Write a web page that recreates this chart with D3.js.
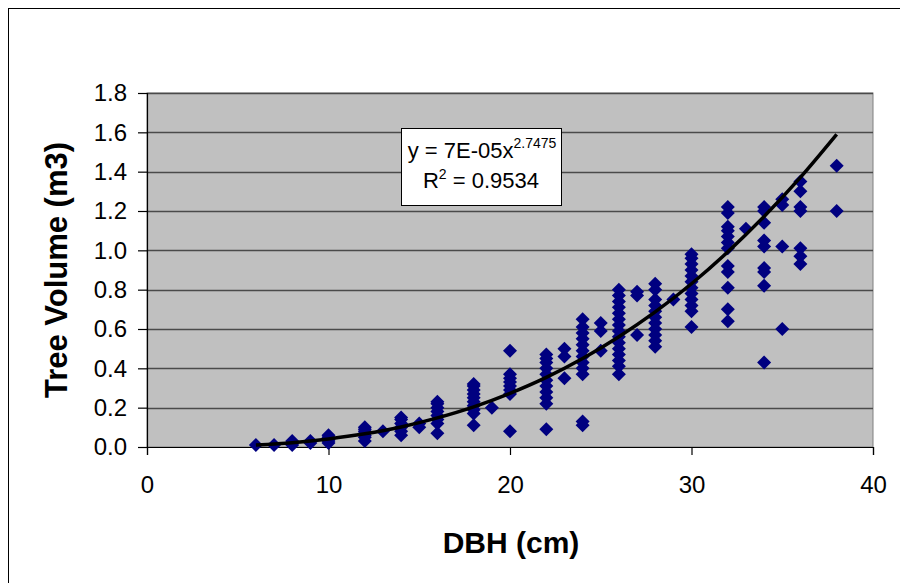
<!DOCTYPE html>
<html>
<head>
<meta charset="utf-8">
<script src="https://cdn.jsdelivr.net/npm/d3@7"></script>
<style>
  html, body { margin: 0; padding: 0; background: #fff; }
  svg { display: block; }
  text { font-family: "Liberation Sans", Arial, sans-serif; }
</style>
</head>
<body>
<svg id="chart" width="900" height="583"></svg>
<script>
// ---- data ----
const dbh06 = [0.01];
const dbh07 = [0.01];
const dbh08 = [0.01, 0.02, 0.03];
const dbh09 = [0.02, 0.03];
const dbh10 = [0.02, 0.03, 0.04, 0.05, 0.06];
const dbh12 = [0.03, 0.05, 0.06, 0.07, 0.08, 0.09, 0.10];
const dbh13 = [0.08];
const dbh14 = [0.06, 0.08, 0.10, 0.12, 0.14, 0.15];
const dbh15 = [0.10, 0.12];
const dbh16 = [0.07, 0.12, 0.14, 0.16, 0.18, 0.20, 0.22, 0.23];
const dbh18 = [0.11, 0.17, 0.19, 0.21, 0.23, 0.25, 0.27, 0.29, 0.31, 0.32];
const dbh19 = [0.20];
const dbh20 = [0.08, 0.27, 0.29, 0.31, 0.33, 0.35, 0.37, 0.49];
const dbh22 = [0.09, 0.22, 0.25, 0.28, 0.31, 0.34, 0.37, 0.40, 0.43, 0.45, 0.47];
const dbh23 = [0.35, 0.46, 0.50];
const dbh24 = [0.11, 0.13, 0.37, 0.40, 0.43, 0.46, 0.49, 0.52, 0.55, 0.58, 0.61, 0.65];
const dbh25 = [0.49, 0.59, 0.63];
const dbh26 = [0.37, 0.41, 0.44, 0.47, 0.50, 0.53, 0.56, 0.59, 0.62, 0.65, 0.68, 0.71, 0.74, 0.77, 0.80];
const dbh27 = [0.57, 0.77, 0.79];
const dbh28 = [0.51, 0.54, 0.57, 0.60, 0.63, 0.66, 0.69, 0.72, 0.75, 0.80, 0.83];
const dbh29 = [0.75];
const dbh30 = [0.61, 0.69, 0.72, 0.75, 0.78, 0.81, 0.84, 0.87, 0.90, 0.93, 0.96, 0.98];
const dbh32 = [0.64, 0.70, 0.81, 0.89, 0.92, 1.01, 1.04, 1.07, 1.10, 1.12, 1.19, 1.22];
const dbh33 = [1.11];
const dbh34 = [0.43, 0.82, 0.89, 0.91, 1.02, 1.05, 1.14, 1.20, 1.22];
const dbh35 = [0.60, 1.02, 1.23, 1.26];
const dbh36 = [0.93, 0.97, 1.01, 1.20, 1.22, 1.30, 1.35];
const dbh38 = [1.20, 1.43];

const dbhClasses = [6, 7, 8, 9, 10, 12, 13, 14, 15, 16, 18, 19, 20, 22, 23, 24, 25, 26, 27, 28, 29, 30, 32, 33, 34, 35, 36, 38];
const volumes = [dbh06, dbh07, dbh08, dbh09, dbh10, dbh12, dbh13, dbh14, dbh15, dbh16, dbh18, dbh19, dbh20,
                 dbh22, dbh23, dbh24, dbh25, dbh26, dbh27, dbh28, dbh29, dbh30, dbh32, dbh33, dbh34, dbh35, dbh36, dbh38];

// power trendline, values
const trendX = [6, 8, 10, 12, 14, 16, 18, 20, 22, 24, 26, 28, 30, 32, 34, 36, 38];
const trendY = [0.010, 0.022, 0.041, 0.067, 0.102, 0.148, 0.204, 0.273, 0.354, 0.450, 0.561, 0.687, 0.83, 0.992, 1.172, 1.371, 1.59];

const xTicks = [0, 10, 20, 30, 40];
const yTicks = [0, 0.2, 0.4, 0.6, 0.8, 1.0, 1.2, 1.4, 1.6, 1.8];

const xTitle = "DBH (cm)";
const yTitle = "Tree Volume (m3)";
const eqMain = "y = 7E-05x";
const eqExp = "2.7475";
const r2Label = " = 0.9534";

// ---- drawing ----
const svg = d3.select("#chart");
const L = 147, R = 873, T = 93, B = 447;
const x = d3.scaleLinear().domain([0, 40]).range([L, R]);
const y = d3.scaleLinear().domain([0, 1.8]).range([B, T]);

// chart area frame (right/bottom edges fall outside the picture)
svg.append("rect").attr("x", 8.5).attr("y", 8.5).attr("width", 1000).attr("height", 1000)
  .attr("fill", "#fff").attr("stroke", "#000").attr("stroke-width", 1);

// plot area
svg.append("rect").attr("x", L).attr("y", T).attr("width", R - L).attr("height", B - T)
  .attr("fill", "#C0C0C0").attr("stroke", "#808080").attr("stroke-width", 1);

// gridlines
svg.append("g").selectAll("line").data(yTicks.filter(d => d > 0)).join("line")
  .attr("x1", L).attr("x2", R)
  .attr("y1", d => Math.round(y(d)) + 0.5).attr("y2", d => Math.round(y(d)) + 0.5)
  .attr("stroke", "#4a4a4a").attr("stroke-width", 1.4);

// axes
const yAxis = svg.append("g").attr("transform", `translate(${L},0)`)
  .call(d3.axisLeft(y).tickValues(yTicks).tickFormat(d3.format(".1f")).tickSize(9).tickPadding(11));
const xAxis = svg.append("g").attr("transform", `translate(0,${B})`)
  .call(d3.axisBottom(x).tickValues(xTicks).tickFormat(d3.format("d")).tickSize(8).tickPadding(21));
[yAxis, xAxis].forEach(g => {
  g.select(".domain").attr("stroke", "#000").attr("stroke-width", 1.2);
  g.selectAll(".tick line").attr("stroke", "#000").attr("stroke-width", 1.2);
  g.selectAll(".tick text").attr("fill", "#000").style("font-family", "'Liberation Sans', Arial, sans-serif");
});
yAxis.selectAll(".tick text").style("font-size", "24px");
xAxis.selectAll(".tick text").style("font-size", "24px");

// points
const pts = [];
dbhClasses.forEach((d, i) => volumes[i].forEach(v => pts.push({ d, v })));
const s = 7;
svg.append("g").selectAll("path").data(pts).join("path")
  .attr("transform", p => `translate(${x(p.d)},${y(p.v)})`)
  .attr("d", `M0,${-s}L${s},0L0,${s}L${-s},0Z`)
  .attr("fill", "#000080");

// trendline
const trend = trendX.map((d, i) => [d, trendY[i]]);
svg.append("path").datum(trend)
  .attr("d", d3.line().x(p => x(p[0])).y(p => y(p[1])).curve(d3.curveMonotoneX))
  .attr("fill", "none").attr("stroke", "#000").attr("stroke-width", 3.5);

// equation box
const bx = 401, by = 128, bw = 160, bh = 77;
svg.append("rect").attr("x", bx + 0.5).attr("y", by + 0.5).attr("width", bw).attr("height", bh)
  .attr("fill", "#fff").attr("stroke", "#000").attr("stroke-width", 1);
const eq1 = svg.append("text").attr("x", bx + bw / 2 + 1).attr("y", 158)
  .attr("text-anchor", "middle").style("font-size", "22px").attr("fill", "#000");
eq1.append("tspan").text(eqMain);
eq1.append("tspan").attr("dy", -10).style("font-size", "14px").text(eqExp);
const eq2 = svg.append("text").attr("x", bx + bw / 2).attr("y", 188)
  .attr("text-anchor", "middle").style("font-size", "22px").attr("fill", "#000");
eq2.append("tspan").text("R");
eq2.append("tspan").attr("dy", -9).style("font-size", "14px").text("2");
eq2.append("tspan").attr("dy", 9).text(r2Label);

// axis titles
svg.append("text").attr("x", 511).attr("y", 553).attr("text-anchor", "middle")
  .style("font-size", "30px").style("font-weight", "bold").attr("fill", "#000").text(xTitle);
svg.append("text").attr("transform", `translate(67,${(T + B) / 2}) rotate(-90)`).attr("text-anchor", "middle")
  .style("font-size", "31px").style("font-weight", "bold").attr("fill", "#000").text(yTitle);
</script>
</body>
</html>
